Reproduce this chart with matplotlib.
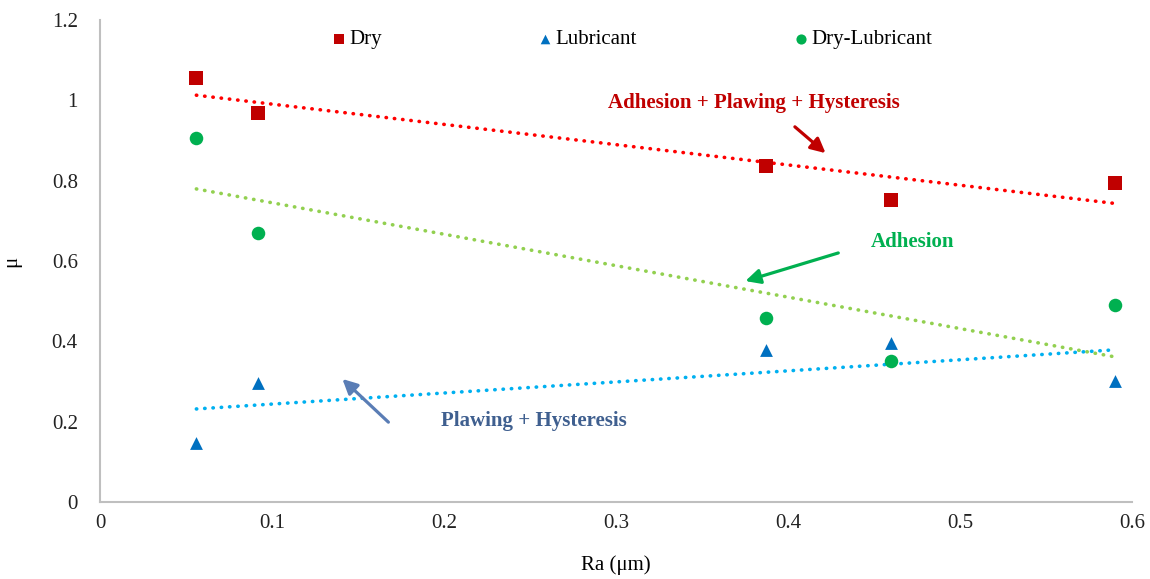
import matplotlib
matplotlib.use('Agg')
import matplotlib.pyplot as plt
import numpy as np

plt.rcParams['font.family'] = ['Liberation Serif', 'DejaVu Serif']

# surface roughness (um)
ra = np.array([0.056, 0.092, 0.387, 0.46, 0.59])

dry = np.array([1.055, 0.968, 0.836, 0.752, 0.794])
lubricant = np.array([0.147, 0.296, 0.378, 0.396, 0.301])
dry_lub = np.array([0.906, 0.670, 0.458, 0.351, 0.490])

series = [
    ('Dry', dry, 's', '#C00000', '#FF0000', 100),
    ('Lubricant', lubricant, '^', '#0070C0', '#00B0F0', 85),
    ('Dry-Lubricant', dry_lub, 'o', '#00B050', '#92D050', 95),
]

fs = 15

fig = plt.figure(figsize=(11.5, 5.79), dpi=100)
ax = fig.add_axes([0.087, 0.133, 0.8975, 0.8325])

for name, y, mk, c, tc, s in series:
    ax.scatter(ra, y, marker=mk, s=s, color=c, label=name, zorder=3, linewidths=0)
    # linear trendline
    k, b = np.polyfit(ra, y, 1)
    xs = np.array([ra.min(), ra.max()])
    ax.plot(xs, k * xs + b, color=tc, lw=2.6, linestyle=(0, (0.1, 2.2)),
            dash_capstyle='round', zorder=2)

ax.set_xlim(0, 0.6)
ax.set_ylim(0, 1.2)
ax.set_xticks(np.arange(0, 0.61, 0.1))
ax.set_xticklabels(['0', '0.1', '0.2', '0.3', '0.4', '0.5', '0.6'])
ax.set_yticks(np.arange(0, 1.21, 0.2))
ax.set_yticklabels(['0', '0.2', '0.4', '0.6', '0.8', '1', '1.2'])
ax.tick_params(length=0, labelsize=fs, colors='#222222')
ax.tick_params(axis='y', pad=16)
ax.tick_params(axis='x', pad=9)
for sp in ['top', 'right']:
    ax.spines[sp].set_visible(False)
for sp in ['left', 'bottom']:
    ax.spines[sp].set_color('#BFBFBF')
    ax.spines[sp].set_linewidth(1.5)

ax.set_xlabel('Ra (μm)', fontsize=fs, labelpad=16)
ax.set_ylabel('μ', fontsize=fs, labelpad=22)

ax.legend(loc='upper center', bbox_to_anchor=(0.515, 1.01), ncol=3, frameon=False,
          fontsize=fs, handlelength=0.7, handletextpad=0.15, columnspacing=7.5,
          markerscale=0.75, borderaxespad=0.3)

# annotations
ax.text(0.380, 0.993, 'Adhesion + Plawing + Hysteresis', color='#C00000',
        fontsize=fs, fontweight='bold', ha='center', va='center')
ax.annotate('', xy=(0.423, 0.864), xytext=(0.4027, 0.9385),
            arrowprops=dict(arrowstyle='-|>', color='#C00000', lw=2.3, mutation_scale=22))

ax.text(0.4726, 0.647, 'Adhesion', color='#00B050',
        fontsize=fs, fontweight='bold', ha='center', va='center')
ax.annotate('', xy=(0.3736, 0.548), xytext=(0.4307, 0.622),
            arrowprops=dict(arrowstyle='-|>', color='#00B050', lw=2.3, mutation_scale=22))

ax.text(0.252, 0.2016, 'Plawing + Hysteresis', color='#3F5F8F',
        fontsize=fs, fontweight='bold', ha='center', va='center')
ax.annotate('', xy=(0.1397, 0.311), xytext=(0.1688, 0.194),
            arrowprops=dict(arrowstyle='-|>', color='#5A7DB5', lw=2.3, mutation_scale=22))

fig.savefig('out.png', dpi=100)
